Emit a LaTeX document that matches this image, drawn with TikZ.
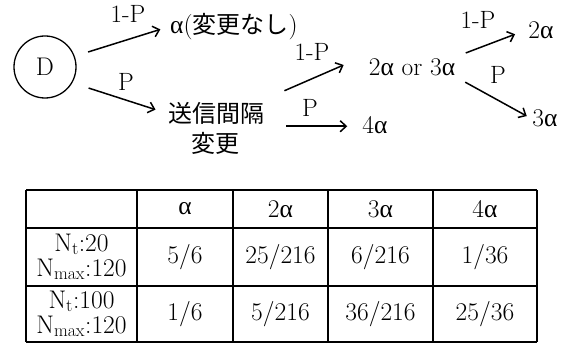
\documentclass[tikz,border=0pt]{standalone}
\usepackage{fontspec}
\usepackage{tikz}
\usetikzlibrary{arrows.meta}
\newfontfamily\jp{Noto Sans CJK JP}
\newfontfamily\grk{Liberation Serif}
\newcommand{\al}{{\grk α}}
\newcommand{\jpsize}{\fontsize{24}{28}\selectfont}

\begin{document}
\begin{tikzpicture}[x=1pt,y=1pt,
    st/.style={font=\fontsize{25.5}{28}\selectfont, inner sep=2pt},
    lbl/.style={font=\fontsize{25}{28}\selectfont, inner sep=1pt},
    arr/.style={-{Straight Barb[length=6pt,width=11pt]}, line width=1.5pt},
    tbl/.style={line width=1.3pt},
    cell/.style={font=\fontsize{25.5}{25}\selectfont, align=center, inner sep=0pt}]
\useasboundingbox (0,0) rectangle (567,344);

% start state
\node[draw, circle, line width=1.3pt, minimum size=62pt, st] (D) at (45,277) {D};

% first step
\node[st, anchor=west] (same) at (168,317) {\al({\jp\jpsize 変更なし})};
\node[st, anchor=west, font=\jp\jpsize] (chg) at (166,231) {送信間隔};
\node[st, font=\jp\jpsize] (chg2) at (215,201) {変更};

% second step
\node[st] (mid) at (412,277) {2\al{} or 3\al};
\node[st] (fa) at (375,219) {4\al};
\node[st] (tw) at (541,314) {2\al};
\node[st] (th) at (545,226) {3\al};

% branches
\draw[arr, shorten <=14pt, shorten >=8pt] (D.20) -- (same.west);
\draw[arr, shorten <=17pt, shorten >=11pt] (D.-30) -- (chg.west);
\draw[arr] ([shift={(18pt,9pt)}]chg.north east) -- ([shift={(-23pt,2pt)}]mid.west);
\draw[arr, shorten <=20pt, shorten >=13pt] (chg.south east) -- (chg.south east -| fa.west);
\draw[arr, shorten <=9pt, shorten >=12pt] (mid.north east) -- (tw.west);
\draw[arr, shorten <=9pt, shorten >=4pt] (mid.south east) -- (th.west);

% probabilities
\node[lbl] (p1) at (128,330) {1-P};
\node[lbl] (p2) at (126,262) {P};
\node[lbl] (p3) at (312,292) {1-P};
\node[lbl] (p4) at (310,236) {P};
\node[lbl] (p5) at (478,324) {1-P};
\node[lbl] (p6) at (498,269) {P};

% table
\foreach \x in {26,137,233,328,433,537}
    \draw[tbl] (\x,2) -- (\x,154);
\foreach \y in {2,58,116,154}
    \draw[tbl] (26,\y) -- (537,\y);

\foreach \cx/\t [count=\i] in {185/\al, 280.5/2\al, 380.5/3\al, 485/4\al}
    \node[cell] (h\i) at (\cx,135) {\t};

\node[cell] (r1) at (81.5,87) {$\mathrm{N_t}$:20\\$\mathrm{N_{max}}$:120};
\node[cell] (r2) at (81.5,30) {$\mathrm{N_t}$:100\\$\mathrm{N_{max}}$:120};

\foreach \cx/\t [count=\i] in {185/5\slash 6, 280.5/25\slash 216, 380.5/6\slash 216, 485/1\slash 36}
    \node[cell] (a\i) at (\cx,87) {\t};
\foreach \cx/\t [count=\i] in {185/1\slash 6, 280.5/5\slash 216, 380.5/36\slash 216, 485/25\slash 36}
    \node[cell] (b\i) at (\cx,30) {\t};
\end{tikzpicture}
\end{document}
